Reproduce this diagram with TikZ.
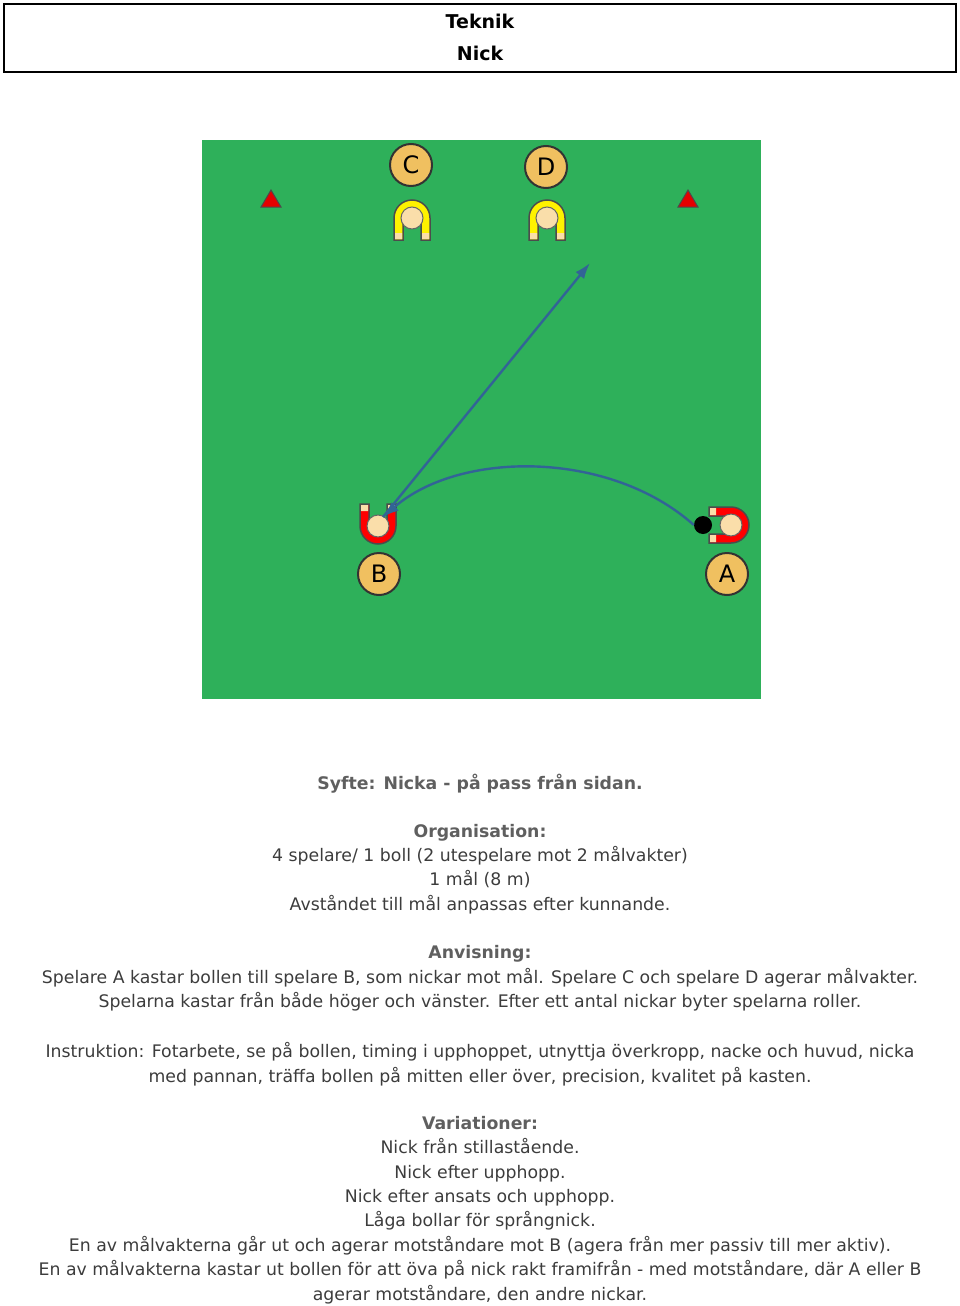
\documentclass[tikz,border=0pt]{standalone}
\usepackage{fontspec}
\setmainfont{DejaVu Sans}
\usetikzlibrary{positioning, arrows.meta}
\definecolor{FieldGreen}{RGB}{46,176,90}
\definecolor{SkinColor}{RGB}{250,222,170}
\definecolor{BadgeColor}{RGB}{240,192,96}
\definecolor{PassBlue}{RGB}{50,100,150}
\definecolor{TextGray}{RGB}{60,60,60}
\definecolor{HeadGray}{RGB}{95,95,95}
\newcommand{\rubrik}[1]{{\color{HeadGray}\bfseries #1}}
\tikzset{
  badge/.style={circle, draw=black!80, fill=BadgeColor, line width=2pt, minimum size=42pt, inner sep=0pt, font=\fontsize{24}{24}\selectfont},
  cone/.style={fill=red!90!black, draw=black!70, line width=1pt},
  pass/.style={PassBlue, line width=2.4pt, -{Latex[length=16pt,width=11pt]}},
  txt/.style={align=center, text=TextGray, font=\fontsize{17.3}{24.4}\selectfont},
  spelare/.pic={
    \filldraw[#1, draw=black!70, line width=1.5pt] (-18,-4) -- (-18,4) arc (180:0:18) -- (18,-4) -- (18,-18) -- (9,-18) -- (9,4) arc (0:180:9) -- (-9,-18) -- (-18,-18) -- cycle;
    \fill[SkinColor] (-17,-11) rectangle (-10,-17) (10,-11) rectangle (17,-17);
    \filldraw[fill=SkinColor, draw=black!60, line width=1pt] (0,4) circle (11);
  }
}
\begin{document}
\begin{tikzpicture}[x=1pt, y=-1pt]
  \useasboundingbox (0,0) rectangle (960,1306);
  % Header
  \draw[line width=1.5pt] (4,4) rectangle (956,72);
  \node[font=\bfseries\fontsize{19}{32}\selectfont, align=center] (title) at (480,37) {Teknik\\Nick};

  % Field
  \fill[FieldGreen] (202,140) rectangle (761,699);
  \filldraw[cone] (271,190) -- (281,207) -- (261,207) -- cycle;
  \filldraw[cone] (688,190) -- (698,207) -- (678,207) -- cycle;

  % Players
  \pic[yscale=-1] (pc) at (412,222) {spelare=yellow};
  \pic[yscale=-1] (pd) at (547,222) {spelare=yellow};
  \pic (pb) at (378,522) {spelare=red};
  \pic[rotate=90] (pa) at (727,525) {spelare=red};
  \node[badge] (c) at (411,165) {C};
  \node[badge] (d) at (546,167) {D};
  \node[badge] (b) at (379,574) {B};
  \node[badge] (a) at (727,574) {A};

  % Passes
  \node[circle, fill=black, minimum size=18pt, inner sep=0pt] (boll) at (703,525) {};
  \coordinate (nick) at (383,517);
  \coordinate (mal) at (590,263);
  \draw[pass] (boll.west) .. controls (610,450) and (460,450) .. (nick);
  \draw[pass] (nick) -- (mal);

  % Text
  \node[txt] (syfte) at (480,784) {\rubrik{Syfte: Nicka - på pass från sidan.}};
  \node[txt] (org) at (480,869) {\rubrik{Organisation:}\\4 spelare/ 1 boll (2 utespelare mot 2 målvakter)\\1 mål (8 m)\\Avståndet till mål anpassas efter kunnande.};
  \node[txt] (anv) at (480,978.5) {\rubrik{Anvisning:}\\Spelare A kastar bollen till spelare B, som nickar mot mål. Spelare C och spelare D agerar målvakter.\\Spelarna kastar från både höger och vänster. Efter ett antal nickar byter spelarna roller.};
  \node[txt] (instr) at (480,1064) {Instruktion: Fotarbete, se på bollen, timing i upphoppet, utnyttja överkropp, nacke och huvud, nicka\\med pannan, träffa bollen på mitten eller över, precision, kvalitet på kasten.};
  \node[txt] (var) at (480,1210) {\rubrik{Variationer:}\\Nick från stillastående.\\Nick efter upphopp.\\Nick efter ansats och upphopp.\\Låga bollar för språngnick.\\En av målvakterna går ut och agerar motståndare mot B (agera från mer passiv till mer aktiv).\\En av målvakterna kastar ut bollen för att öva på nick rakt framifrån - med motståndare, där A eller B\\agerar motståndare, den andre nickar.};
\end{tikzpicture}
\end{document}
